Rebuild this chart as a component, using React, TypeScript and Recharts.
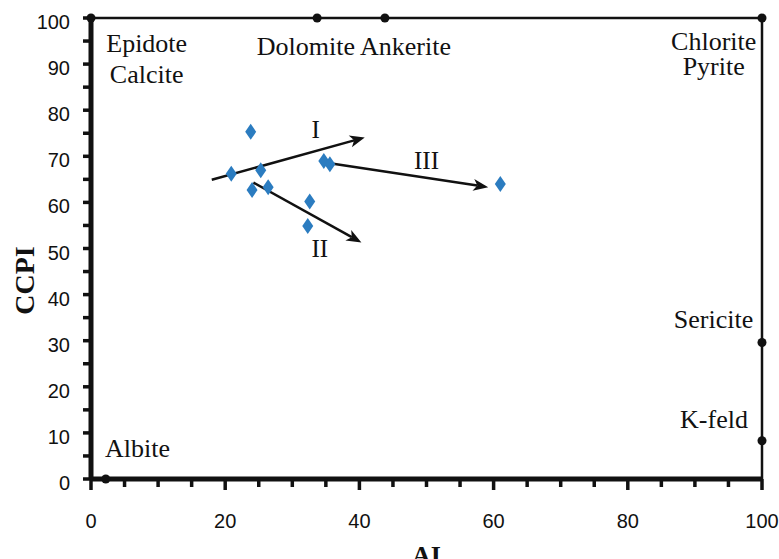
import React from 'react';
import { ScatterChart, Scatter, XAxis, YAxis, ReferenceLine } from 'recharts';

// samples (blue diamonds)
const sampleAI = [23.8, 20.9, 25.3, 24.0, 26.4, 32.6, 32.3, 34.7, 35.6, 61.0];
const sampleCCPI = [75.3, 66.2, 67.0, 62.7, 63.3, 60.2, 54.9, 69.0, 68.3, 64.0];

// mineral end-members (black dots on the box)
const mineralAI = [0, 33.7, 43.8, 100, 100, 100, 2.2];
const mineralCCPI = [100, 100, 100, 100, 29.6, 8.3, 0];

// mineral names
const mineralNames = ['Epidote', 'Calcite', 'Dolomite Ankerite', 'Chlorite', 'Pyrite', 'Sericite', 'K-feld', 'Albite'];
const mineralNameAI = [8.3, 8.3, 24.7, 92.8, 92.8, 98.7, 97.9, 2.1];
const mineralNameCCPI = [92.6, 85.9, 92.0, 93.1, 87.6, 32.8, 11.1, 4.8];

// alteration trends
const trendNames = ['I', 'II', 'III'];
const trendFromAI = [18.0, 24.2, 35.6];
const trendFromCCPI = [64.9, 64.3, 68.5];
const trendToAI = [40.8, 40.3, 59.2];
const trendToCCPI = [74.1, 51.3, 63.3];
const trendNameAI = [33.5, 34.1, 50.0];
const trendNameCCPI = [74.0, 48.2, 67.2];

const axisTicks = [0, 5, 10, 15, 20, 25, 30, 35, 40, 45, 50, 55, 60, 65, 70, 75, 80, 85, 90, 95, 100];

const INK = '#111';
const SERIF = '"Liberation Serif", "Times New Roman", serif';
const SANS = '"Liberation Sans", Arial, sans-serif';
const nameAnchor = ['middle', 'middle', 'start', 'middle', 'middle', 'end', 'end', 'start'];

const samples = sampleAI.map((x, i) => ({ x, y: sampleCCPI[i] }));
const minerals = mineralAI.map((x, i) => ({ x, y: mineralCCPI[i] }));
const mineralLabels = mineralNames.map((text, i) => ({ x: mineralNameAI[i], y: mineralNameCCPI[i], text, anchor: nameAnchor[i] }));
const trendLabels = trendNames.map((text, i) => ({ x: trendNameAI[i], y: trendNameCCPI[i], text, anchor: 'middle' }));

const YTick = (props: any) => {
  const { x, y, payload } = props;
  const v = payload.value;
  return (
    <g>
      <line x1={x - 8} y1={y} x2={x} y2={y} stroke={INK} strokeWidth={3.5} />
      {v % 10 === 0 && (
        <text x={x - 21} y={y + 4} textAnchor="end" dominantBaseline="central" fontFamily={SANS} fontSize={20} fill={INK}>
          {v}
        </text>
      )}
    </g>
  );
};

const XTick = (props: any) => {
  const { x, y, payload } = props;
  const v = payload.value;
  const major = v % 20 === 0;
  return (
    <g>
      <line x1={x} y1={y} x2={x} y2={y + (major ? 11 : 8)} stroke={INK} strokeWidth={3.5} />
      {major && (
        <text x={x} y={y + 42} textAnchor="middle" dominantBaseline="central" fontFamily={SANS} fontSize={20} fill={INK}>
          {v}
        </text>
      )}
    </g>
  );
};

const Diamond = (props: any) => {
  const { cx, cy } = props;
  return <polygon points={`${cx},${cy - 8} ${cx + 5.5},${cy} ${cx},${cy + 8} ${cx - 5.5},${cy}`} fill="#2b7cc0" />;
};

const Dot = (props: any) => <circle cx={props.cx} cy={props.cy} r={4.5} fill={INK} />;

const Label = (size: number) => (props: any) => {
  const { cx, cy, payload } = props;
  return (
    <text x={cx} y={cy} textAnchor={payload.anchor} fontFamily={SERIF} fontSize={size} fill={INK}>
      {payload.text}
    </text>
  );
};

const Arrow = (props: any) => {
  const { x1, y1, x2, y2 } = props;
  const dx = x2 - x1;
  const dy = y2 - y1;
  const len = Math.hypot(dx, dy) || 1;
  const ux = dx / len;
  const uy = dy / len;
  const head = 15;
  const half = 6;
  const bx = x2 - ux * head;
  const by = y2 - uy * head;
  const nx = x2 - ux * (head - 4);
  const ny = y2 - uy * (head - 4);
  const pts = `${x2},${y2} ${bx - uy * half},${by + ux * half} ${nx},${ny} ${bx + uy * half},${by - ux * half}`;
  return (
    <g>
      <line x1={x1} y1={y1} x2={nx} y2={ny} stroke={INK} strokeWidth={2.5} />
      <polygon points={pts} fill={INK} />
    </g>
  );
};

export default function App() {
  return (
    <div style={{ position: 'absolute', left: 0, top: 0, width: 779, height: 559, background: '#fff' }}>
      <ScatterChart width={779} height={559} margin={{ top: 18, right: 17, left: 0, bottom: 0 }}>
        <XAxis
          type="number"
          dataKey="x"
          domain={[0, 100]}
          ticks={axisTicks}
          interval={0}
          height={80}
          tickSize={0}
          tickMargin={0}
          tickLine={false}
          tick={<XTick />}
          axisLine={{ stroke: INK, strokeWidth: 5 }}
          label={{
            content: (p: any) => (
              <text x={p.viewBox.x + p.viewBox.width / 2} y={564} textAnchor="middle" fontFamily={SERIF} fontWeight="bold" fontSize={26} fill={INK}>
                AI
              </text>
            ),
          }}
        />
        <YAxis
          type="number"
          dataKey="y"
          domain={[0, 100]}
          ticks={axisTicks}
          interval={0}
          width={91}
          tickSize={0}
          tickMargin={0}
          tickLine={false}
          tick={<YTick />}
          axisLine={{ stroke: INK, strokeWidth: 5 }}
          label={{
            content: (p: any) => {
              const cx = p.viewBox.x + 24;
              const cy = p.viewBox.y + p.viewBox.height / 2 + 32;
              return (
                <text x={cx} y={cy} transform={`rotate(-90 ${cx} ${cy})`} textAnchor="middle" dominantBaseline="central" fontFamily={SERIF} fontWeight="bold" fontSize={28} fill={INK}>
                  CCPI
                </text>
              );
            },
          }}
        />
        <ReferenceLine y={100} stroke={INK} strokeWidth={2.5} />
        <ReferenceLine x={100} stroke={INK} strokeWidth={2.5} />
        {trendNames.map((n, i) => (
          <ReferenceLine
            key={n}
            segment={[
              { x: trendFromAI[i], y: trendFromCCPI[i] },
              { x: trendToAI[i], y: trendToCCPI[i] },
            ]}
            shape={Arrow}
          />
        ))}
        <Scatter data={samples} shape={Diamond} isAnimationActive={false} />
        <Scatter data={minerals} shape={Dot} isAnimationActive={false} />
        <Scatter data={mineralLabels} shape={Label(26)} isAnimationActive={false} />
        <Scatter data={trendLabels} shape={Label(25)} isAnimationActive={false} />
      </ScatterChart>
    </div>
  );
}
